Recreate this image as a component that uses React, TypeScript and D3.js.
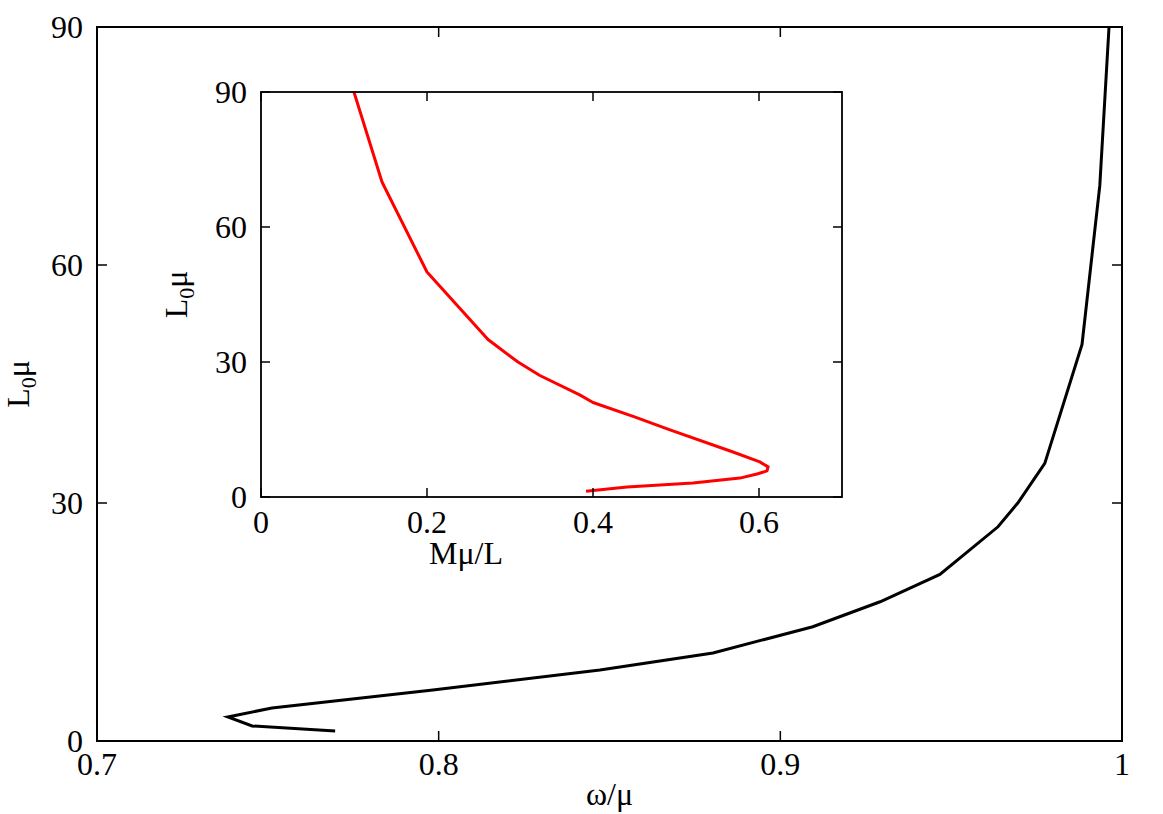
import React from "react";
import * as d3 from "d3";

// Main curve: ω/μ vs L0μ
const mainOmega = [0.9962, 0.9935, 0.9883, 0.9774, 0.9695, 0.9637, 0.9467, 0.9292, 0.9095, 0.8803, 0.8472, 0.7983, 0.7512, 0.7383, 0.7454, 0.7697];
const mainL = [90, 70, 50, 35, 30, 27, 21, 17.55, 14.4, 11.1, 8.96, 6.44, 4.17, 3.03, 1.89, 1.26];

// Inset curve: Mμ/L vs L0μ
const insetM = [0.112, 0.1458, 0.2, 0.2735, 0.3096, 0.336, 0.384, 0.4, 0.45, 0.4928, 0.5687, 0.601, 0.611, 0.6096, 0.5976, 0.577, 0.5205, 0.441, 0.3916];
const insetL = [90, 70, 50, 35, 30, 27, 22.7, 21, 17.8, 14.9, 10, 7.8, 6.7, 5.8, 5.1, 4.2, 3.1, 2.2, 1.3];

const mainXTicks = [0.7, 0.8, 0.9, 1];
const mainXTickLabels = ["0.7", "0.8", "0.9", "1"];
const yTicks = [0, 30, 60, 90];
const insetXTicks = [0, 0.2, 0.4, 0.6];
const insetXTickLabels = ["0", "0.2", "0.4", "0.6"];

const FONT = "'Liberation Serif', 'Times New Roman', 'DejaVu Serif', serif";

export default function App() {
  const W = 1163, H = 814;
  const mx = d3.scaleLinear().domain([0.7, 1]).range([97, 1122]);
  const my = d3.scaleLinear().domain([0, 90]).range([741, 27]);
  const ix = d3.scaleLinear().domain([0, 0.7]).range([261, 842]);
  const iy = d3.scaleLinear().domain([0, 90]).range([497, 92]);

  const mainData = mainOmega.map((w, i) => [w, mainL[i]] as [number, number]);
  const insetData = insetM.map((m, i) => [m, insetL[i]] as [number, number]);

  const mainLine = d3.line<[number, number]>().x(d => mx(d[0])).y(d => my(d[1]));
  const insetLine = d3.line<[number, number]>().x(d => ix(d[0])).y(d => iy(d[1]));

  const tick = 10;
  const fs = 32;
  const ts = { fontFamily: FONT, fontSize: fs };

  return (
    <svg width={W} height={H} style={{ position: "absolute", left: 0, top: 0, background: "#fff", fontFamily: FONT }}>
      <defs>
        <clipPath id="mainClip">
          <rect x={mx(0.7)} y={my(90)} width={mx(1) - mx(0.7)} height={my(0) - my(90)} />
        </clipPath>
        <clipPath id="insetClip">
          <rect x={ix(0)} y={iy(90)} width={ix(0.7) - ix(0)} height={iy(0) - iy(90)} />
        </clipPath>
      </defs>
      <rect width={W} height={H} fill="#fff" />

      {/* Main plot */}
      <path d={mainLine(mainData) || ""} fill="none" stroke="#000" strokeWidth={3} strokeLinejoin="miter" clipPath="url(#mainClip)" />
      <rect x={mx(0.7)} y={my(90)} width={mx(1) - mx(0.7)} height={my(0) - my(90)} fill="none" stroke="#000" strokeWidth={2} />
      {mainXTicks.map((t, i) => (
        <g key={"mx" + i}>
          <line x1={mx(t)} x2={mx(t)} y1={my(0)} y2={my(0) - tick} stroke="#000" strokeWidth={1.5} />
          <line x1={mx(t)} x2={mx(t)} y1={my(90)} y2={my(90) + tick} stroke="#000" strokeWidth={1.5} />
          <text x={mx(t)} y={my(0) + 34} style={ts} textAnchor="middle">{mainXTickLabels[i]}</text>
        </g>
      ))}
      {yTicks.map((t, i) => (
        <g key={"my" + i}>
          <line x1={mx(0.7)} x2={mx(0.7) + tick} y1={my(t)} y2={my(t)} stroke="#000" strokeWidth={1.5} />
          <line x1={mx(1)} x2={mx(1) - tick} y1={my(t)} y2={my(t)} stroke="#000" strokeWidth={1.5} />
          <text x={mx(0.7) - 14} y={my(t) + 11} style={ts} textAnchor="end">{t}</text>
        </g>
      ))}
      <text x={(mx(0.7) + mx(1)) / 2} y={805} style={ts} textAnchor="middle">ω/μ</text>
      <text transform={`translate(29, ${(my(0) + my(90)) / 2}) rotate(-90)`} style={ts} textAnchor="middle">
        L<tspan style={{ fontSize: 22 }} dy={7}>0</tspan><tspan dy={-7}>μ</tspan>
      </text>

      {/* Inset */}
      <rect x={ix(0)} y={iy(90)} width={ix(0.7) - ix(0)} height={iy(0) - iy(90)} fill="#fff" />
      <path d={insetLine(insetData) || ""} fill="none" stroke="#ff0000" strokeWidth={3} strokeLinejoin="round" clipPath="url(#insetClip)" />
      <rect x={ix(0)} y={iy(90)} width={ix(0.7) - ix(0)} height={iy(0) - iy(90)} fill="none" stroke="#000" strokeWidth={1.8} />
      {insetXTicks.map((t, i) => (
        <g key={"ix" + i}>
          <line x1={ix(t)} x2={ix(t)} y1={iy(0)} y2={iy(0) - 9} stroke="#000" strokeWidth={1.5} />
          <line x1={ix(t)} x2={ix(t)} y1={iy(90)} y2={iy(90) + 9} stroke="#000" strokeWidth={1.5} />
          <text x={ix(t)} y={iy(0) + 36} style={ts} textAnchor="middle">{insetXTickLabels[i]}</text>
        </g>
      ))}
      {yTicks.map((t, i) => (
        <g key={"iy" + i}>
          <line x1={ix(0)} x2={ix(0) + 9} y1={iy(t)} y2={iy(t)} stroke="#000" strokeWidth={1.5} />
          <line x1={ix(0.7)} x2={ix(0.7) - 9} y1={iy(t)} y2={iy(t)} stroke="#000" strokeWidth={1.5} />
          <text x={ix(0) - 14} y={iy(t) + 11} style={ts} textAnchor="end">{t}</text>
        </g>
      ))}
      <text x={466} y={564} style={ts} textAnchor="middle">Mμ/L</text>
      <text transform={`translate(187, ${(iy(0) + iy(90)) / 2}) rotate(-90)`} style={ts} textAnchor="middle">
        L<tspan style={{ fontSize: 22 }} dy={7}>0</tspan><tspan dy={-7}>μ</tspan>
      </text>
    </svg>
  );
}
